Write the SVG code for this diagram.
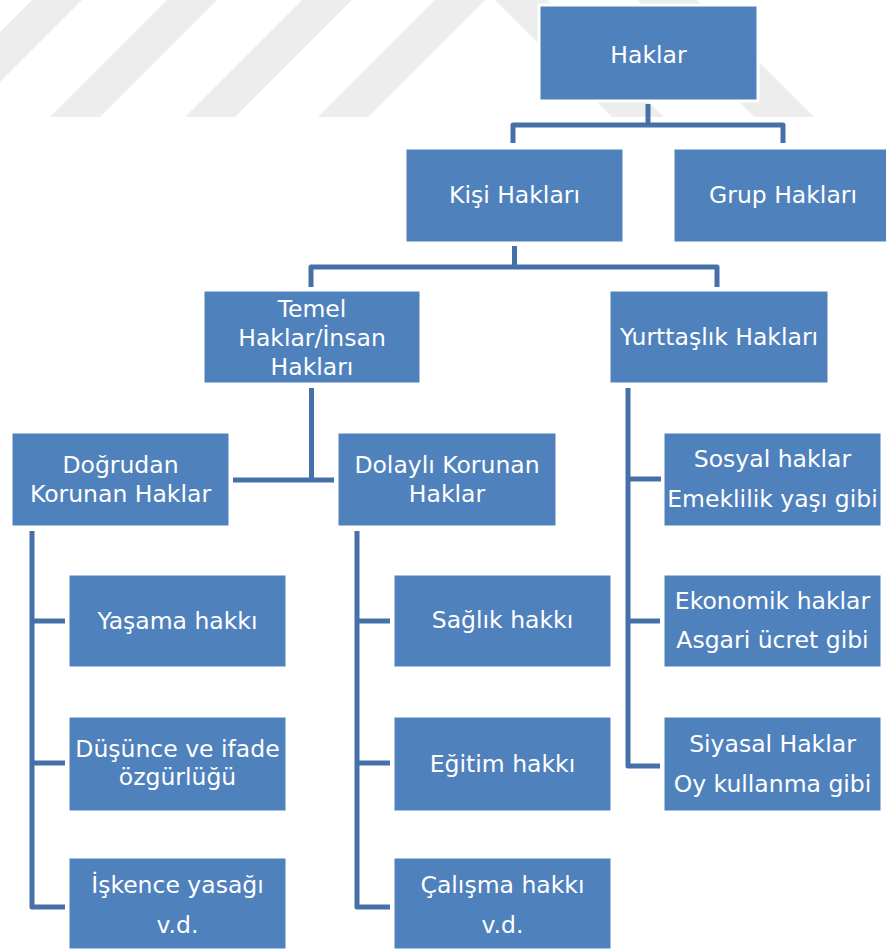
<svg xmlns="http://www.w3.org/2000/svg" width="886" height="951" viewBox="0 0 886 951">
<style>
.bg{fill:#ededed}
.box{fill:#4f81bd;stroke:#ffffff;stroke-width:3}
.t{font-family:"DejaVu Sans","Liberation Sans",sans-serif;font-size:23.5px;fill:#ffffff;text-anchor:middle}
.c{fill:none;stroke:#4571a8;stroke-width:5;stroke-linejoin:round}
</style>
<rect width="886" height="951" fill="#ffffff"/>
<g id="watermark">
<polygon class="bg" points="-85,117 -35,117 82,0 32,0"/>
<polygon class="bg" points="50,117 100,117 217,0 167,0"/>
<polygon class="bg" points="185,117 235,117 352,0 302,0"/>
<polygon class="bg" points="318,117 368,117 485,0 435,0"/>
<polygon class="bg" points="495,0 547,0 664,117 612,117"/>
<polygon class="bg" points="637,0 697,0 814,117 754,117"/>
</g>
<g id="connectors">
<path class="c" d="M648,104 V125 M513,143 V125 H783 V143"/>
<path class="c" d="M514.5,246 V267 M311,287 V267 H717 V287"/>
<path class="c" d="M311.5,388 V480 M233,480 H334"/>
<path class="c" d="M628,388 V766 H660 M628,479 H661 M628,621 H660"/>
<path class="c" d="M32,531 V907 H65 M32,621 H65 M32,763 H65"/>
<path class="c" d="M357,531 V907 H390 M357,621 H390 M357,763 H390"/>
</g>
<g id="n-haklar"><rect class="box" x="539" y="5" width="219" height="96"/><text class="t" x="648.5" y="63">Haklar</text></g>
<g id="n-kisi"><rect class="box" x="405" y="148" width="219" height="95"/><text class="t" x="514.5" y="203">Kişi Hakları</text></g>
<g id="n-grup"><rect class="box" x="673" y="148" width="219" height="95"/><text class="t" x="783" y="203">Grup Hakları</text></g>
<g id="n-temel"><rect class="box" x="203" y="290" width="218" height="94"/><text class="t" x="312" y="317">Temel</text><text class="t" x="312" y="346">Haklar/İnsan</text><text class="t" x="312" y="375">Hakları</text></g>
<g id="n-yurttaslik"><rect class="box" x="609" y="290" width="220" height="94"/><text class="t" x="719" y="345">Yurttaşlık Hakları</text></g>
<g id="n-dogrudan"><rect class="box" x="11" y="432" width="219" height="95"/><text class="t" x="120.5" y="473">Doğrudan</text><text class="t" x="120.5" y="502">Korunan Haklar</text></g>
<g id="n-dolayli"><rect class="box" x="337" y="432" width="220" height="95"/><text class="t" x="447" y="473">Dolaylı Korunan</text><text class="t" x="447" y="502">Haklar</text></g>
<g id="n-sosyal"><rect class="box" x="663" y="432" width="219" height="95"/><text class="t" x="772.5" y="467">Sosyal haklar</text><text class="t" x="772.5" y="507">Emeklilik yaşı gibi</text></g>
<g id="n-ekonomik"><rect class="box" x="663" y="574" width="219" height="94"/><text class="t" x="772.5" y="609">Ekonomik haklar</text><text class="t" x="772.5" y="648">Asgari ücret gibi</text></g>
<g id="n-siyasal"><rect class="box" x="663" y="716" width="219" height="96"/><text class="t" x="772.5" y="752">Siyasal Haklar</text><text class="t" x="772.5" y="792">Oy kullanma gibi</text></g>
<g id="n-yasama"><rect class="box" x="68" y="574" width="219" height="94"/><text class="t" x="177.5" y="629">Yaşama hakkı</text></g>
<g id="n-dusunce"><rect class="box" x="68" y="716" width="219" height="96"/><text class="t" x="177.5" y="757">Düşünce ve ifade</text><text class="t" x="177.5" y="785">özgürlüğü</text></g>
<g id="n-iskence"><rect class="box" x="68" y="857" width="219" height="93"/><text class="t" x="177.5" y="893">İşkence yasağı</text><text class="t" x="177.5" y="933">v.d.</text></g>
<g id="n-saglik"><rect class="box" x="393" y="574" width="219" height="94"/><text class="t" x="502.5" y="628">Sağlık hakkı</text></g>
<g id="n-egitim"><rect class="box" x="393" y="716" width="219" height="96"/><text class="t" x="502.5" y="772">Eğitim hakkı</text></g>
<g id="n-calisma"><rect class="box" x="393" y="857" width="219" height="93"/><text class="t" x="502.5" y="893">Çalışma hakkı</text><text class="t" x="502.5" y="933">v.d.</text></g>
</svg>
